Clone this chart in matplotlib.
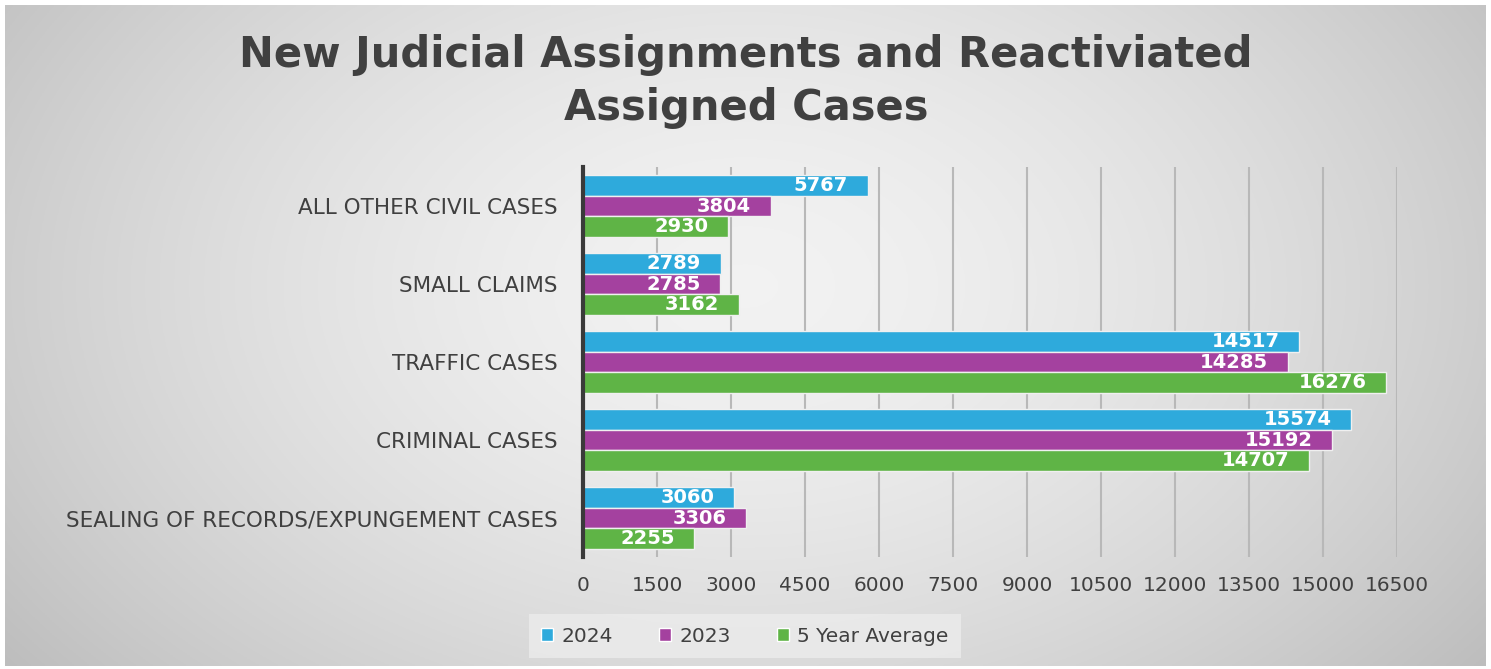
import numpy as np
import matplotlib
matplotlib.use("Agg")
import matplotlib.pyplot as plt
from matplotlib.patches import Patch

categories = ["ALL OTHER CIVIL CASES", "SMALL CLAIMS", "TRAFFIC CASES",
              "CRIMINAL CASES", "SEALING OF RECORDS/EXPUNGEMENT CASES"]
vals_2024 = [5767, 2789, 14517, 15574, 3060]
vals_2023 = [3804, 2785, 14285, 15192, 3306]
vals_avg = [2930, 3162, 16276, 14707, 2255]
series_names = ["2024", "2023", "5 Year Average"]
colors = ["#2eaadc", "#a4419f", "#5fb446"]
xticks = list(range(0, 16501, 1500))

W, H = 1491, 669
fig = plt.figure(figsize=(W / 100, H / 100), dpi=100)
fig.patch.set_facecolor("white")
plt.rcParams["font.family"] = "DejaVu Sans"

# background radial gradient
bg = fig.add_axes([5 / W, 3 / H, (W - 10) / W, (H - 8) / H], zorder=-10)
yy, xx = np.mgrid[-1:1:300j, -1:1:600j]
r = np.sqrt((xx * 0.9) ** 2 + ((yy + 0.15) * 0.6) ** 2)
g = 0.95 - 0.17 * np.clip(r, 0, 1.3) ** 1.6
bg.imshow(np.dstack([g, g, g]), aspect="auto", extent=[0, 1, 0, 1])
bg.axis("off")

ax = fig.add_axes([583 / W, 1 - 557 / H, (1397 - 583) / W, (557 - 167) / H])
ax.patch.set_alpha(0)

y = np.arange(len(categories))
h = 0.265
for i, (vals, c) in enumerate(zip([vals_2024, vals_2023, vals_avg], colors)):
    pos = y + (i - 1) * h
    bars = ax.barh(pos, vals, height=h, color=c, edgecolor="#f0f0f0", linewidth=1.0,
                   label=series_names[i], zorder=3)
    for b, v in zip(bars, vals):
        ax.annotate(str(v), (v, b.get_y() + b.get_height() / 2), xytext=(-14, 0),
                    textcoords="offset points", ha="right", va="center",
                    color="white", fontsize=14, fontweight="bold", zorder=4)

ax.set_ylim(len(categories) - 0.5, -0.5)
ax.set_xlim(0, 16500)
ax.set_xticks(xticks)
ax.set_xticklabels([str(t) for t in xticks], fontsize=14.5, color="#404040")
ax.set_yticks(y)
ax.set_yticklabels(categories, fontsize=15.5, color="#404040")
ax.tick_params(length=0, pad=18.5, axis="y")
ax.tick_params(length=0, pad=14, axis="x")
ax.grid(axis="x", color="#b8b8b8", linewidth=1.5, zorder=0)
for s in ["top", "right", "bottom"]:
    ax.spines[s].set_visible(False)
ax.spines["left"].set_color("#3a3a3a")
ax.spines["left"].set_linewidth(3)
ax.spines["left"].set_zorder(5)

fig.text(746 / W, 1 - 55 / H, "New Judicial Assignments and Reactiviated",
         ha="center", va="center", fontsize=30, fontweight="bold", color="#404040")
fig.text(746 / W, 1 - 108 / H, "Assigned Cases",
         ha="center", va="center", fontsize=30, fontweight="bold", color="#404040")

handles = [Patch(facecolor=c, edgecolor="white", label=n) for c, n in zip(colors, series_names)]
leg = fig.legend(handles=handles, loc="center", bbox_to_anchor=(745 / W, 1 - 636 / H),
                 ncol=3, frameon=True, handlelength=0.6, handleheight=0.6,
                 handletextpad=0.4, columnspacing=2.3, borderpad=0.3,
                 prop={"size": 14.5})
leg.get_frame().set_facecolor("#ececec")
leg.get_frame().set_edgecolor("none")
leg.get_frame().set_boxstyle("square")
for t in leg.get_texts():
    t.set_color("#404040")

fig.savefig("out.png", dpi=100)
